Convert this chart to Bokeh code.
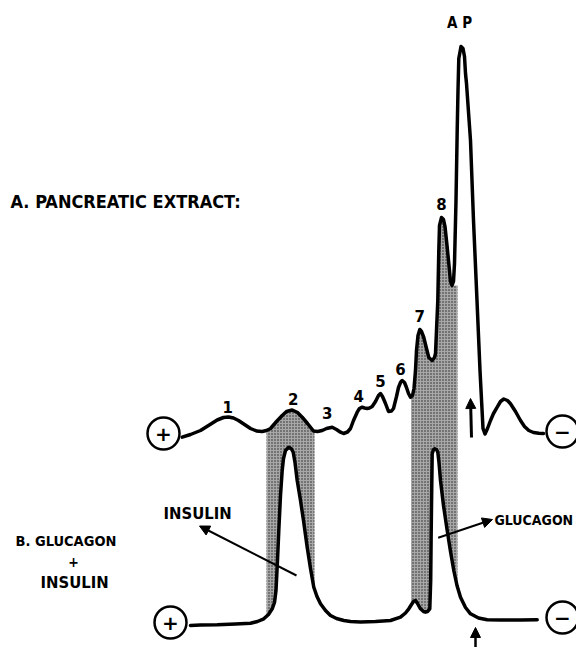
import numpy as np
from bokeh.plotting import figure
from bokeh.models import Range1d, Arrow, NormalHead
from bokeh.core.properties import value
from bokeh.embed import file_html
from bokeh.resources import INLINE

# ---- data (drawing units: x to the right, y grows downward) ----
# A. pancreatic extract densitometer trace
trace_a_x = [181.7, 190, 200, 208, 216.7, 223, 228, 233, 238, 244, 250, 256, 261.7, 266, 270, 276,
             281.7, 286, 291.7, 297, 301.7, 307, 313, 317, 321.7, 326, 331.7, 336, 340, 343, 347,
             350, 353, 356.7, 359, 361.7, 364, 366.7, 369, 371.7, 375, 378, 380, 382, 385, 388,
             391, 393, 396, 398, 400, 401.7, 404, 406, 408, 410, 412, 413.5, 415, 416, 417.5,
             419.3, 421, 423.3, 426, 428.3, 431.7, 434, 435, 436, 437.3, 438.3, 439, 441, 443,
             444.5, 446.5, 448.3, 450, 451.5, 453, 454, 455.5, 456.7, 457.5, 458.3, 460.5, 462.5,
             464, 465, 466, 470, 473, 476.5, 479.5, 482.5, 484.5, 487, 490, 493, 496.7, 500,
             503.3, 507, 510, 515, 520, 524, 528.3, 533, 538.3, 543]
trace_a_y = [436.7, 434, 430, 425, 419.5, 417, 416.5, 417.5, 420, 424, 428, 430.5, 431, 430, 428, 421,
             415, 411, 409.5, 412, 416.7, 423, 430.5, 431, 430, 428, 426.7, 429, 431.7, 433, 431.5,
             428, 420, 411.7, 408, 406.7, 407.5, 408, 407.5, 406, 401, 395, 393, 396, 403, 411,
             410.5, 408, 396, 387, 382, 380, 382, 387, 393, 396.7, 395, 388, 370, 350, 335,
             329, 331, 337, 348, 357, 360, 357, 353, 330, 300, 250, 225, 217, 219,
             226, 245, 263, 281, 285, 281, 263, 200, 130, 90, 58, 46, 48,
             56, 73, 83, 140, 220, 300, 370, 428, 433.5, 428, 420, 413, 406.7, 401,
             398.5, 400, 403.3, 411, 420, 426, 430, 432, 432.7, 433]

# B. glucagon + insulin trace
trace_b_x = [190, 200, 216.7, 235, 250, 257, 263.3, 268, 271.7, 274, 275.5, 277, 278.3, 280, 281.7,
             283, 285, 288.3, 291, 292.7, 294.5, 296.7, 300, 303, 306.7, 310, 313.3, 316.5, 320,
             325, 330, 336, 343.3, 350, 360, 375, 390, 400, 405, 408.3, 411, 413, 415, 417, 420,
             423, 425, 427, 429.3, 430.2, 430.7, 431.2, 431.7, 433, 434.3, 436, 437.3, 438.5, 440,
             443, 446.7, 450, 453.3, 456.5, 460, 465, 470, 478, 486.7, 500, 520, 536.7]
trace_b_y = [625, 624.5, 624.3, 623.5, 622.7, 621, 618.3, 614, 608.3, 602, 590, 560, 530, 495, 470,
             458, 450, 446.7, 448.5, 451.7, 462, 480, 500, 520, 546.7, 568, 586.7, 596, 603.3,
             610, 615, 618, 620, 621, 621.5, 621, 620, 616.7, 612.5, 608.3, 604, 601, 600, 603, 608.3,
             611, 611.7, 611, 608.3, 580, 530, 490, 453.3, 449, 448.3, 449, 451.7, 462, 480,
             505, 530, 551, 570, 585, 596.7, 607, 613.3, 617.5, 619.3, 619.5, 619.5, 619.3]

peak_labels = ["1", "2", "3", "4", "5", "6", "7", "8"]
peak_label_x = [227.3, 292.7, 326.7, 358.3, 380, 400, 419.3, 441]
peak_label_y = [406, 398.3, 412.3, 395, 380, 368.3, 315, 203.3]

electrode_x = [163, 562, 170, 562]
electrode_y = [433, 431, 622, 617]
electrode_sign = ["+", "\u2212", "+", "\u2212"]

insulin_band = (266.0, 314.0)
glucagon_band = (410.5, 457.0)

# ---- figure ----
p = figure(width=576, height=647, output_backend="svg", toolbar_location=None,
           x_range=Range1d(0, 576), y_range=Range1d(647, 0),
           x_axis_location=None, y_axis_location=None, min_border=0)
p.grid.visible = False
p.outline_line_color = None
p.background_fill_color = "white"

ax, ay = np.array(trace_a_x), np.array(trace_a_y)
bx, by = np.array(trace_b_x), np.array(trace_b_y)


def band_polygon(x0, x1, cap_dip=False):
    inner = ax[(ax > x0) & (ax < x1)]
    tx = np.concatenate([[x0], inner, [x1]])
    ty = np.interp(tx, ax, ay)
    if cap_dip:
        m = (ax > x1 - 12) & (ax < x1)
        k = np.argmax(np.where(m, ay, -1))
        ty = np.where(tx > ax[k], np.maximum(ty, ay[k]), ty)
    innerb = bx[(bx > x0) & (bx < x1)]
    bxx = np.concatenate([[x0], innerb, [x1]])
    byy = np.interp(bxx, bx, by)
    return list(tx) + list(bxx[::-1]), list(ty) + list(byy[::-1])


for (x0, x1), cap in [(insulin_band, False), (glucagon_band, True)]:
    px, py = band_polygon(x0, x1, cap)
    p.patch(px, py, fill_color="#a8a8a8", line_color=None,
            hatch_pattern="dot", hatch_color="#222222", hatch_scale=3, hatch_weight=1.3)

p.line(trace_a_x, trace_a_y, line_color="black", line_width=3.5, line_join="round", line_cap="round")
p.line(trace_b_x, trace_b_y, line_color="black", line_width=3.5, line_join="round", line_cap="round")

p.circle(electrode_x, electrode_y, radius=16, fill_color="white", line_color="black", line_width=2.5)
p.text(electrode_x, electrode_y, text=electrode_sign, text_align="center", text_baseline="middle",
       text_font=value("DejaVu Sans"), text_font_style="bold", text_font_size="20px", text_color="black")

p.text(peak_label_x, peak_label_y, text=peak_labels, text_align="center", text_baseline="middle",
       text_font=value("DejaVu Sans"), text_font_style="bold", text_font_size="15px", text_color="black")

lbl = dict(text_font=value("DejaVu Sans Condensed"), text_font_style="bold",
           text_baseline="middle", text_color="black")
p.text([10], [200.5], text=["A. PANCREATIC EXTRACT:"], text_align="left", text_font_size="18px", **lbl)
p.text([459], [22], text=["A P"], text_align="center", text_font_size="15px", **lbl)
p.text([15], [540], text=["B. GLUCAGON"], text_align="left", text_font_size="14.5px", **lbl)
p.text([73], [561], text=["+"], text_align="center", text_font_size="14px", **lbl)
p.text([40], [582], text=["INSULIN"], text_align="left", text_font_size="16.5px", **lbl)
p.text([163], [513], text=["INSULIN"], text_align="left", text_font_size="16.5px", **lbl)
p.text([494], [519], text=["GLUCAGON"], text_align="left", text_font_size="14px", **lbl)

head = lambda: NormalHead(size=10, fill_color="black", line_color="black")
p.add_layout(Arrow(end=head(), x_start=296, y_start=575, x_end=199, y_end=525.5,
                   line_width=2, line_color="black"))
p.add_layout(Arrow(end=head(), x_start=437.7, y_start=537.3, x_end=492, y_end=519,
                   line_width=2, line_color="black"))
p.add_layout(Arrow(end=head(), x_start=471, y_start=437, x_end=470, y_end=398,
                   line_width=3, line_color="black"))
p.add_layout(Arrow(end=head(), x_start=475, y_start=650, x_end=475, y_end=627,
                   line_width=2.5, line_color="black"))

open("out.html", "w").write(file_html(p, INLINE))
